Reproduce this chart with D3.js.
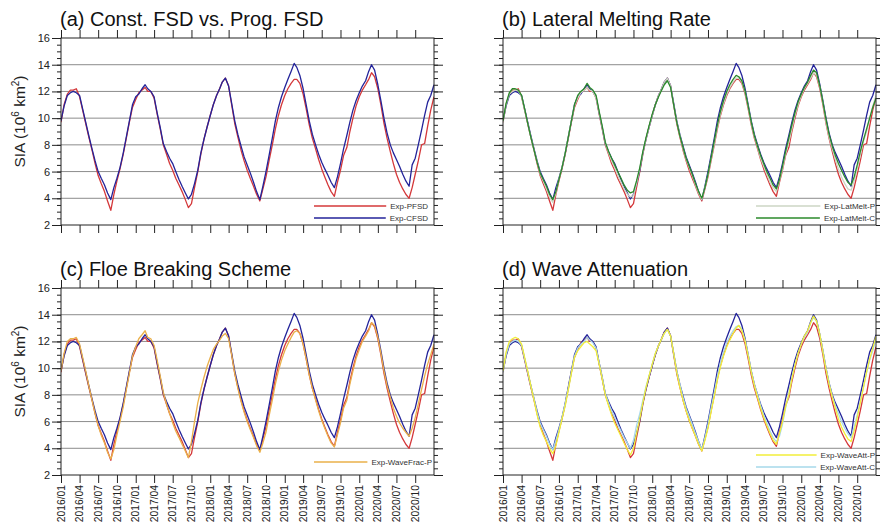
<!DOCTYPE html>
<html>
<head>
<meta charset="utf-8">
<script src="https://cdn.jsdelivr.net/npm/d3@7"></script>
<style>
  body { margin: 0; background: #fff; }
  text { font-family: "Liberation Sans", Arial, Helvetica, sans-serif; }
</style>
</head>
<body>
<svg id="chart" width="880" height="532"></svg>
<script>
// x tick labels (every 3 months) and y ticks
var tickLabels = ["2016/01","2016/04","2016/07","2016/10","2017/01","2017/04","2017/07","2017/10",
  "2018/01","2018/04","2018/07","2018/10","2019/01","2019/04","2019/07","2019/10",
  "2020/01","2020/04","2020/07","2020/10"];
var yTicks = [2, 4, 6, 8, 10, 12, 14, 16];

// SIA (10^6 km2), sampled on the 1st and 16th of each month, 2016/01/01 .. 2021/01/01
var pfsd = [
  9.7, 11.0, 11.8, 12.1, 12.1, 12.2, 11.6, 10.6, 9.6, 8.6, 7.6, 6.6, 5.7, 5.1, 4.5, 3.8, 3.1, 4.3, 5.3, 6.2, 7.3, 8.5, 9.7, 10.8, 11.4,
  11.9, 12.1, 12.3, 12.0, 12.0, 11.5, 10.3, 9.2, 8.0, 7.3, 6.6, 6.1, 5.5, 5.0, 4.5, 3.9, 3.3, 3.6, 4.8, 6.0, 7.3, 8.4, 9.3, 10.2,
  11.0, 11.7, 12.2, 12.7, 13.0, 12.4, 11.0, 9.6, 8.6, 7.6, 6.8, 6.1, 5.5, 4.9, 4.3, 3.8, 4.7, 5.6, 6.8, 8.0, 9.2, 10.2, 11.0, 11.7,
  12.2, 12.6, 12.9, 12.9, 12.6, 11.8, 10.7, 9.5, 8.5, 7.7, 6.9, 6.2, 5.6, 5.0, 4.5, 4.15, 5.2, 6.1, 7.2, 7.8, 9.0, 10.0, 10.9, 11.6,
  12.1, 12.5, 12.9, 13.4, 13.1, 12.2, 11.0, 9.6, 8.5, 7.5, 6.6, 5.8, 5.2, 4.7, 4.3, 4.0, 4.8, 5.8, 6.8, 8.0, 8.1, 9.4, 10.6, 11.6];
var cfsd = [
  9.8, 10.9, 11.7, 11.9, 12.0, 11.9, 11.7, 10.7, 9.7, 8.7, 7.7, 6.8, 6.0, 5.5, 5.0, 4.4, 3.9, 4.8, 5.5, 6.3, 7.4, 8.6, 9.8, 11.0, 11.6,
  11.8, 12.2, 12.5, 12.2, 12.0, 11.6, 10.4, 9.3, 8.1, 7.5, 7.0, 6.6, 6.0, 5.4, 4.9, 4.4, 3.95, 4.3, 5.1, 6.1, 7.4, 8.4, 9.3, 10.2,
  11.0, 11.7, 12.2, 12.7, 13.0, 12.4, 11.1, 9.8, 8.8, 7.9, 7.1, 6.5, 5.9, 5.2, 4.5, 3.9, 4.9, 6.0, 7.2, 8.5, 9.8, 10.8, 11.6, 12.3,
  12.9, 13.5, 14.1, 13.8, 13.2, 12.2, 11.0, 9.8, 8.8, 8.0, 7.3, 6.7, 6.2, 5.7, 5.2, 4.8, 5.6, 6.6, 7.7, 8.7, 9.7, 10.6, 11.3, 11.9,
  12.4, 12.8, 13.5, 14.0, 13.6, 12.5, 11.3, 10.0, 8.9, 8.0, 7.4, 6.9, 6.4, 5.8, 5.3, 4.9, 6.5, 7.0, 8.0, 9.1, 10.2, 11.2, 11.7, 12.5];
var latMeltP = [
  9.7, 11.0, 11.8, 12.0, 12.1, 12.1, 11.6, 10.6, 9.6, 8.6, 7.6, 6.7, 5.8, 5.3, 4.7, 4.1, 3.7, 4.4, 5.4, 6.3, 7.4, 8.6, 9.8, 10.9, 11.5,
  11.9, 12.1, 12.3, 12.1, 12.0, 11.5, 10.4, 9.3, 8.1, 7.4, 6.8, 6.3, 5.7, 5.2, 4.7, 4.3, 4.1, 4.2, 5.1, 6.2, 7.4, 8.4, 9.3, 10.2,
  11.0, 11.7, 12.2, 12.7, 13.0, 12.4, 11.0, 9.7, 8.7, 7.7, 6.9, 6.3, 5.7, 5.0, 4.4, 3.9, 4.8, 5.7, 6.9, 8.1, 9.3, 10.3, 11.1, 11.8,
  12.3, 12.7, 13.0, 13.0, 12.7, 11.9, 10.8, 9.6, 8.6, 7.8, 7.0, 6.4, 5.8, 5.2, 4.8, 4.5, 5.3, 6.2, 7.3, 8.2, 9.2, 10.2, 11.0, 11.7,
  12.2, 12.6, 13.0, 13.4, 13.2, 12.3, 11.1, 9.7, 8.6, 7.7, 6.9, 6.2, 5.6, 5.1, 4.7, 4.6, 5.3, 6.2, 7.2, 8.3, 9.0, 10.0, 10.9, 11.7];
var latMeltC = [
  9.8, 11.1, 11.9, 12.2, 12.2, 12.1, 11.7, 10.7, 9.6, 8.6, 7.6, 6.7, 5.9, 5.4, 4.9, 4.3, 3.9, 4.5, 5.4, 6.3, 7.4, 8.6, 9.8, 11.0, 11.7,
  12.0, 12.2, 12.6, 12.3, 12.1, 11.7, 10.5, 9.4, 8.2, 7.5, 7.0, 6.5, 6.0, 5.5, 5.0, 4.6, 4.4, 4.5, 5.3, 6.3, 7.5, 8.5, 9.4, 10.3,
  11.0, 11.6, 12.1, 12.5, 12.8, 12.3, 11.0, 9.7, 8.7, 7.8, 7.0, 6.4, 5.8, 5.1, 4.5, 4.0, 4.8, 5.8, 7.0, 8.3, 9.5, 10.5, 11.3, 12.0,
  12.5, 12.9, 13.2, 13.1, 12.8, 12.0, 10.9, 9.7, 8.7, 7.9, 7.2, 6.6, 6.0, 5.5, 5.0, 4.7, 5.4, 6.4, 7.5, 8.5, 9.5, 10.4, 11.2, 11.8,
  12.3, 12.7, 13.2, 13.6, 13.4, 12.4, 11.2, 9.9, 8.8, 7.9, 7.2, 6.6, 6.1, 5.6, 5.2, 5.0, 5.6, 6.5, 7.5, 8.4, 9.2, 10.0, 10.8, 11.5];
var waveFracP = [
  9.8, 11.1, 12.0, 12.2, 12.2, 12.3, 11.8, 10.8, 9.8, 8.7, 7.6, 6.6, 5.7, 5.0, 4.4, 3.7, 3.2, 3.9, 5.0, 6.0, 7.1, 8.4, 9.6, 10.9, 11.6,
  12.2, 12.5, 12.8, 12.3, 12.2, 11.7, 10.6, 9.4, 8.2, 7.3, 6.6, 5.9, 5.3, 4.8, 4.3, 3.8, 3.3, 4.5, 6.0, 7.4, 8.4, 9.3, 10.1, 10.8,
  11.4, 11.8, 12.1, 12.4, 12.6, 12.2, 11.0, 9.6, 8.5, 7.5, 6.7, 6.0, 5.4, 4.8, 4.2, 3.7, 4.4, 5.2, 6.4, 7.6, 8.8, 9.8, 10.6, 11.3,
  11.8, 12.3, 12.7, 12.8, 12.6, 11.8, 10.7, 9.5, 8.5, 7.6, 6.8, 6.1, 5.5, 4.9, 4.4, 4.1, 5.0, 5.9, 7.0, 7.6, 8.8, 9.8, 10.7, 11.4,
  12.0, 12.4, 12.8, 13.4, 13.2, 12.3, 11.1, 9.8, 8.7, 7.8, 7.0, 6.4, 5.9, 5.5, 5.2, 4.9, 5.5, 6.3, 7.3, 8.4, 9.4, 10.3, 11.0, 11.8];
var waveAttP = [
  9.8, 11.2, 12.0, 12.2, 12.3, 12.2, 11.8, 10.8, 9.8, 8.7, 7.6, 6.5, 5.6, 5.0, 4.5, 4.0, 3.6, 4.2, 5.2, 6.2, 7.2, 8.4, 9.6, 10.8, 11.3,
  11.6, 11.9, 12.0, 11.8, 11.6, 11.3, 10.3, 9.2, 8.0, 7.2, 6.5, 5.9, 5.4, 4.9, 4.4, 3.9, 3.5, 4.0, 5.1, 6.2, 7.4, 8.5, 9.4, 10.3,
  11.1, 11.7, 12.2, 12.6, 12.9, 12.4, 11.1, 9.7, 8.6, 7.6, 6.8, 6.1, 5.5, 4.9, 4.3, 3.8, 4.6, 5.5, 6.7, 7.9, 9.1, 10.1, 10.9, 11.6,
  12.1, 12.6, 13.0, 13.2, 12.8, 12.0, 10.9, 9.7, 8.7, 7.8, 7.0, 6.3, 5.7, 5.1, 4.6, 4.3, 5.1, 6.0, 7.1, 8.0, 9.2, 10.2, 11.1, 11.8,
  12.4, 12.8, 13.4, 13.9, 13.5, 12.5, 11.2, 9.9, 8.8, 7.8, 7.0, 6.2, 5.6, 5.1, 4.7, 4.5, 5.3, 6.3, 7.4, 8.6, 9.7, 10.7, 11.5, 12.4];
var waveAttC = [
  9.7, 11.0, 11.8, 12.0, 12.1, 12.0, 11.7, 10.7, 9.7, 8.7, 7.7, 6.7, 5.9, 5.4, 4.9, 4.3, 3.9, 4.6, 5.4, 6.3, 7.4, 8.5, 9.7, 10.9, 11.5,
  11.8, 12.0, 12.3, 12.1, 11.9, 11.5, 10.4, 9.3, 8.1, 7.4, 6.8, 6.3, 5.8, 5.3, 4.8, 4.4, 4.0, 4.6, 5.7, 6.6, 7.6, 8.6, 9.4, 10.3,
  11.1, 11.7, 12.2, 12.6, 12.9, 12.4, 11.1, 9.8, 8.8, 7.8, 7.0, 6.4, 5.8, 5.1, 4.5, 3.9, 4.8, 5.8, 7.0, 8.2, 9.4, 10.4, 11.2, 11.9,
  12.4, 12.8, 13.1, 13.2, 12.9, 12.1, 11.0, 9.8, 8.8, 8.0, 7.2, 6.5, 5.9, 5.3, 4.8, 4.5, 4.9, 5.8, 7.0, 8.1, 9.3, 10.3, 11.1, 11.8,
  12.3, 12.7, 13.4, 13.8, 13.5, 12.5, 11.3, 10.0, 8.9, 7.9, 7.2, 6.6, 6.0, 5.5, 5.1, 4.8, 5.6, 6.5, 7.5, 8.6, 9.7, 10.6, 11.3, 12.2];

var svg = d3.select("#chart");
var width = 373, height = 187;

var dates = pfsd.map(function(d, i) { return new Date(2016, Math.floor(i / 2), i % 2 ? 16 : 1); });
var parseMonth = d3.timeParse("%Y/%m");
var tickDates = tickLabels.map(parseMonth);

var x = d3.scaleTime()
  .domain([new Date(2016, 0, 1), new Date(2021, 0, 1)])
  .range([0, width]);
var y = d3.scaleLinear()
  .domain([2, 16])
  .range([height, 0]);

var red = "#d4383a", blue = "#23239a", green = "#2b8a2b", pale = "#cdd6c4",
    orange = "#eab04a", yellow = "#f2ee3a", lightblue = "#a6d8ea";

// draw order = array order; legend lists the entries named in "legend"
var panels = [
  {title: "(a) Const. FSD vs. Prog. FSD", left: 61, top: 38, yLab: true, xLab: false,
   series: [{name: "Exp-PFSD", v: pfsd, c: red}, {name: "Exp-CFSD", v: cfsd, c: blue}],
   legend: [0, 1], legRows: [168, 180], legRight: 367},
  {title: "(b) Lateral Melting Rate", left: 503, top: 38, yLab: false, xLab: false,
   series: [{v: pfsd, c: red}, {v: cfsd, c: blue},
            {name: "Exp-LatMelt-P", v: latMeltP, c: pale}, {name: "Exp-LatMelt-C", v: latMeltC, c: green}],
   legend: [2, 3], legRows: [168, 180], legRight: 372},
  {title: "(c) Floe Breaking Scheme", left: 61, top: 288, yLab: true, xLab: true,
   series: [{v: pfsd, c: red}, {v: cfsd, c: blue}, {name: "Exp-WaveFrac-P", v: waveFracP, c: orange}],
   legend: [2], legRows: [174], legRight: 371},
  {title: "(d) Wave Attenuation", left: 503, top: 288, yLab: false, xLab: true,
   series: [{v: pfsd, c: red}, {v: cfsd, c: blue},
            {name: "Exp-WaveAtt-C", v: waveAttC, c: lightblue}, {name: "Exp-WaveAtt-P", v: waveAttP, c: yellow}],
   legend: [3, 2], legRows: [167, 179], legRight: 372}
];

var line = d3.line()
  .x(function(d, i) { return x(dates[i]); })
  .y(function(d) { return y(d); });

panels.forEach(function(p, pi) {
  var g = svg.append("g").attr("transform", "translate(" + p.left + "," + p.top + ")");

  g.append("clipPath").attr("id", "clip" + pi)
    .append("rect").attr("width", width).attr("height", height);

  // horizontal grid lines
  g.append("g").selectAll("line")
    .data(yTicks.slice(1, -1)).enter()
    .append("line")
    .attr("x1", 0).attr("x2", width)
    .attr("y1", function(d) { return y(d); })
    .attr("y2", function(d) { return y(d); })
    .attr("stroke", "#8c8c8c")
    .attr("stroke-width", 1);

  // outward tick marks on all four sides
  var minor = d3.range(2.5, 16, 0.5);
  var axes = [
    {ax: d3.axisBottom(x).tickValues(tickDates).tickSize(8), t: "translate(0," + height + ")"},
    {ax: d3.axisTop(x).tickValues(tickDates).tickSize(8), t: null},
    {ax: d3.axisLeft(y).tickValues(yTicks).tickSize(9), t: null},
    {ax: d3.axisRight(y).tickValues(yTicks).tickSize(9), t: "translate(" + width + ",0)"},
    {ax: d3.axisLeft(y).tickValues(minor).tickSize(4), t: null},
    {ax: d3.axisRight(y).tickValues(minor).tickSize(4), t: "translate(" + width + ",0)"}
  ];
  axes.forEach(function(a) {
    var ag = g.append("g").attr("transform", a.t)
      .call(a.ax.tickFormat("").tickSizeOuter(0));
    ag.select(".domain").remove();
    ag.selectAll("line").attr("stroke", "#222").attr("stroke-width", 1);
  });

  // y tick labels and axis title
  if (p.yLab) {
    g.append("g").selectAll("text")
      .data(yTicks).enter()
      .append("text")
      .attr("x", -11)
      .attr("y", function(d) { return y(d); })
      .attr("dy", "0.36em")
      .attr("text-anchor", "end")
      .style("font-size", "11px")
      .attr("fill", "#222")
      .text(function(d) { return d; });

    var yt = g.append("text")
      .attr("transform", "translate(-36," + (height / 2 - 10) + ") rotate(-90)")
      .attr("text-anchor", "middle")
      .style("font-size", "15.5px")
      .attr("fill", "#222");
    yt.append("tspan").text("SIA (10");
    yt.append("tspan").attr("dy", -6).style("font-size", "10px").text("6");
    yt.append("tspan").attr("dy", 6).text(" km");
    yt.append("tspan").attr("dy", -6).style("font-size", "10px").text("2");
    yt.append("tspan").attr("dy", 6).text(")");
  }

  // rotated x tick labels
  if (p.xLab) {
    g.append("g").selectAll("text")
      .data(tickDates).enter()
      .append("text")
      .attr("transform", function(d) { return "translate(" + x(d) + "," + (height + 10) + ") rotate(-90)"; })
      .attr("dy", "0.35em")
      .attr("text-anchor", "end")
      .style("font-size", "10.3px")
      .attr("fill", "#222")
      .text(function(d, i) { return tickLabels[i]; });
  }

  // series lines
  g.append("g").attr("clip-path", "url(#clip" + pi + ")")
    .selectAll("path")
    .data(p.series).enter()
    .append("path")
    .attr("d", function(s) { return line(s.v); })
    .attr("fill", "none")
    .attr("stroke", function(s) { return s.c; })
    .attr("stroke-width", 1.3)
    .attr("stroke-linejoin", "round");

  // frame
  g.append("rect")
    .attr("width", width).attr("height", height)
    .attr("fill", "none")
    .attr("stroke", "#222")
    .attr("stroke-width", 1);

  // legend
  p.legend.forEach(function(si, k) {
    var s = p.series[si];
    var lab = g.append("text")
      .attr("x", p.legRight)
      .attr("y", p.legRows[k])
      .attr("dy", "0.35em")
      .attr("text-anchor", "end")
      .style("font-size", "8px")
      .attr("fill", "#333")
      .text(s.name);
    var textStart = p.legRight - lab.node().getComputedTextLength();
    g.append("line")
      .attr("x1", 253).attr("x2", textStart - 4)
      .attr("y1", p.legRows[k]).attr("y2", p.legRows[k])
      .attr("stroke", s.c)
      .attr("stroke-width", 1.6);
  });

  // title
  g.append("text")
    .attr("x", -1)
    .attr("y", -12)
    .style("font-size", "20px")
    .attr("fill", "#111")
    .text(p.title);
});
</script>
</body>
</html>
